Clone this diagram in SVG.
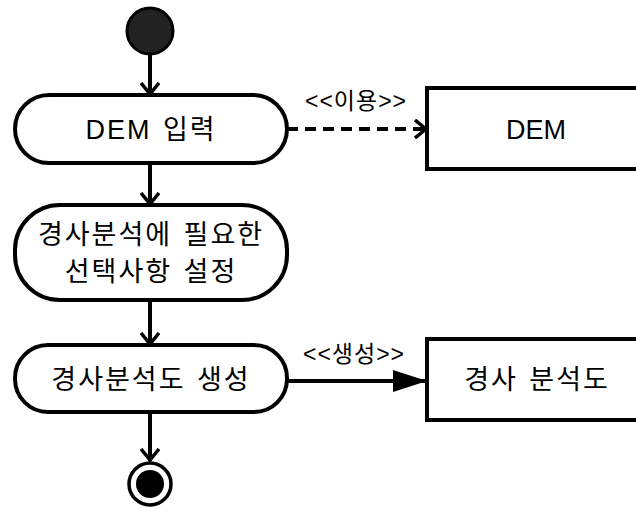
<svg xmlns="http://www.w3.org/2000/svg" width="636" height="508" viewBox="0 0 636 508">
  <defs>
    <marker id="open" viewBox="0 0 14 20" refX="13" refY="10" markerWidth="14" markerHeight="20" markerUnits="userSpaceOnUse" orient="auto">
      <path d="M1,1 L12,10 L1,19" fill="none" stroke="#000" stroke-width="3.5"/>
    </marker>
    <marker id="solid" viewBox="0 0 34 22" refX="34" refY="11" markerWidth="34" markerHeight="22" markerUnits="userSpaceOnUse" orient="auto">
      <path d="M0,0 L34,11 L0,22 Z" fill="#000"/>
    </marker>
    <style>
      .act { fill: #fff; stroke: #000; stroke-width: 4; }
      .obj { fill: #fff; stroke: #000; stroke-width: 4; }
      .t { font-family: "Liberation Sans", "Noto Sans CJK KR", sans-serif; font-size: 27px; letter-spacing: 2px; word-spacing: 2px; fill: #000; text-anchor: middle; }
      .lat { letter-spacing: 0; }
      .lbl { font-family: "Liberation Sans", "Noto Sans CJK KR", sans-serif; font-size: 23px; letter-spacing: 1px; fill: #000; text-anchor: middle; }
      .flow { fill: none; stroke: #000; stroke-width: 4; }
    </style>
  </defs>

  <g id="connectors">
    <line class="flow" x1="150" y1="55" x2="150" y2="95" marker-end="url(#open)"/>
    <line class="flow" x1="150" y1="163" x2="150" y2="205" marker-end="url(#open)"/>
    <line class="flow" x1="150" y1="300" x2="150" y2="345" marker-end="url(#open)"/>
    <line class="flow" x1="150" y1="412" x2="150" y2="461" marker-end="url(#open)"/>
    <line class="flow" x1="287" y1="129" x2="427" y2="129" stroke-dasharray="11,7" marker-end="url(#open)"/>
    <text class="lbl" x="356" y="109">&lt;&lt;이용&gt;&gt;</text>
    <line class="flow" x1="287" y1="381" x2="427" y2="381" marker-end="url(#solid)"/>
    <text class="lbl" x="354" y="362">&lt;&lt;생성&gt;&gt;</text>
  </g>

  <g id="start">
    <circle cx="150" cy="31" r="23" fill="#222" stroke="#000" stroke-width="3"/>
  </g>

  <g id="act-dem-input">
    <rect class="act" x="15" y="95" width="272" height="68" rx="34" ry="34"/>
    <text class="t" x="151" y="139">DEM 입력</text>
  </g>

  <g id="act-options">
    <rect class="act" x="15" y="205" width="272" height="95" rx="45" ry="45"/>
    <text class="t" x="151" y="244">경사분석에 필요한</text>
    <text class="t" x="151" y="281">선택사항 설정</text>
  </g>

  <g id="act-generate">
    <rect class="act" x="15" y="345" width="272" height="67" rx="33" ry="33"/>
    <text class="t" x="151" y="389">경사분석도 생성</text>
  </g>

  <g id="end">
    <circle cx="150" cy="484" r="21" fill="#fff" stroke="#000" stroke-width="3.5"/>
    <circle cx="150" cy="484" r="14" fill="#000"/>
  </g>

  <g id="obj-dem">
    <rect class="obj" x="427" y="88" width="215" height="81"/>
    <text class="t lat" x="536" y="139">DEM</text>
  </g>

  <g id="obj-slope-map">
    <rect class="obj" x="427" y="339" width="215" height="81"/>
    <text class="t" x="537" y="389">경사 분석도</text>
  </g>
</svg>
